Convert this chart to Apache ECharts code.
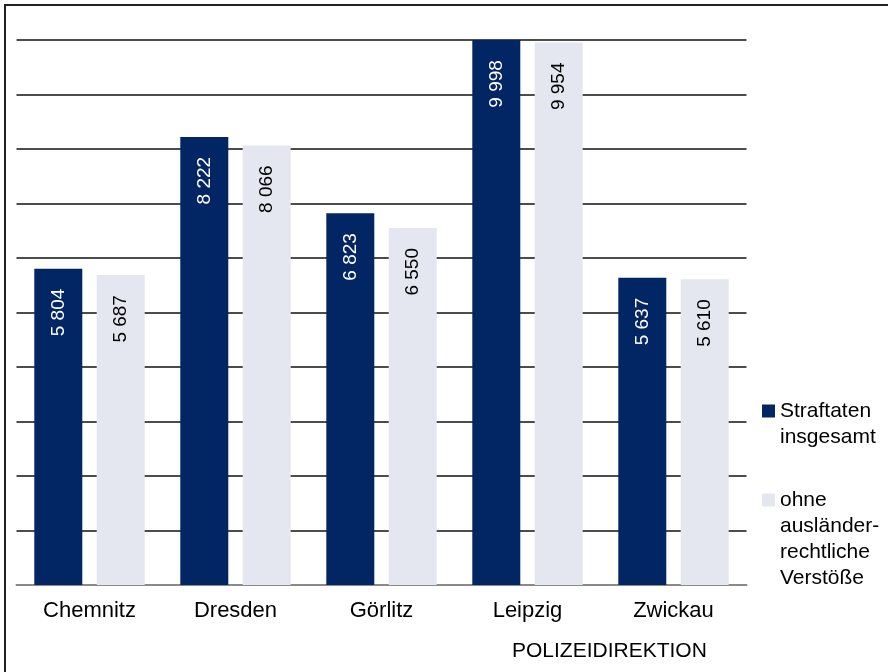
<!DOCTYPE html>
<html>
<head>
<meta charset="utf-8">
<script src="https://cdn.jsdelivr.net/npm/echarts@6/dist/echarts.min.js"></script>
<style>
  html, body { margin: 0; padding: 0; background: #fff; }
  #chart { width: 888px; height: 672px; }
</style>
</head>
<body>
<div id="chart"></div>
<script>
"use strict";

const categories = ["Chemnitz", "Dresden", "Görlitz", "Leipzig", "Zwickau"];
const seriesNames = ["Straftaten\ninsgesamt", "ohne\nausländer-\nrechtliche\nVerstöße"];
const totalValues = [5804, 8222, 6823, 9998, 5637];
const withoutValues = [5687, 8066, 6550, 9954, 5610];
const axisTitle = "POLIZEIDIREKTION";

const FONT = "'Liberation Sans', Arial, sans-serif";
const DARK = "#022564";
const LIGHT = "#e4e7ef";
const LINE_H = 26;

const chart = echarts.init(document.getElementById("chart"));

// 5 804 statt 5804
const fmt = (v) => String(v).replace(/\B(?=(\d{3})+$)/g, " ");

const barLabel = (color) => ({
  show: true,
  position: "insideTop",
  distance: 20,
  rotate: 90,
  align: "right",
  verticalAlign: "middle",
  color,
  fontFamily: FONT,
  fontSize: 19,
  formatter: (p) => fmt(p.value),
});

// Legendensymbol an der ersten Textzeile: Quadrat oben im hohen Symbolfeld
const legendItem = (name, top) => {
  const h = name.split("\n").length * LINE_H;
  const y0 = LINE_H / 2 - 6.5;
  return {
    orient: "vertical",
    left: 762,
    top,
    padding: 0,
    selectedMode: false,
    itemWidth: 13,
    itemHeight: h,
    icon: `path://M0,0h13M0,${y0}h13v13h-13zM0,${h}h13`,
    textStyle: {
      fontFamily: FONT,
      fontSize: 21,
      color: "#000",
      lineHeight: LINE_H,
    },
    data: [name],
  };
};

chart.setOption({
  backgroundColor: "#fff",
  animation: false,
  title: {
    text: axisTitle,
    left: 512,
    top: 641,
    padding: 0,
    textStyle: { fontFamily: FONT, fontSize: 21, fontWeight: "normal", color: "#000" },
  },
  legend: [
    legendItem(seriesNames[0], 398),
    legendItem(seriesNames[1], 487),
  ],
  grid: { left: 16.5, right: 141.5, top: 40, bottom: 87 },
  xAxis: {
    type: "category",
    data: categories,
    axisLine: { show: true, lineStyle: { color: "#8a8a8a", width: 2 } },
    axisTick: { show: false },
    axisLabel: { margin: 15, fontFamily: FONT, fontSize: 22, color: "#000" },
  },
  yAxis: {
    type: "value",
    min: 0,
    max: 10000,
    interval: 1000,
    axisLine: { show: false },
    axisTick: { show: false },
    axisLabel: { show: false },
    splitLine: { lineStyle: { color: "#111", width: 1.6 } },
  },
  series: [
    {
      name: seriesNames[0],
      type: "bar",
      data: totalValues,
      barWidth: 48,
      barGap: "30%",
      itemStyle: { color: DARK },
      label: barLabel("#fff"),
    },
    {
      name: seriesNames[1],
      type: "bar",
      data: withoutValues,
      barWidth: 48,
      itemStyle: { color: LIGHT },
      label: barLabel("#000"),
    },
  ],
  graphic: [
    {
      type: "rect",
      shape: { x: 5, y: 5, width: 1000, height: 1000 },
      style: { fill: "none", stroke: "#222", lineWidth: 2 },
      silent: true,
    },
  ],
});
</script>
</body>
</html>
